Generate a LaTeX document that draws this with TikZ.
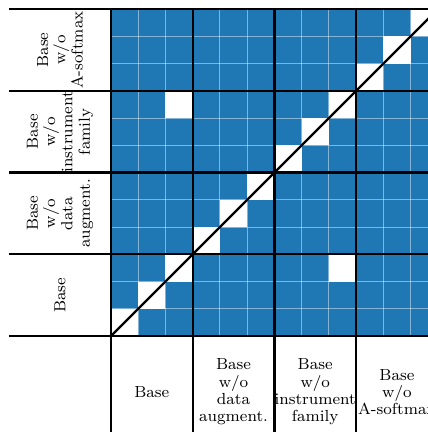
\documentclass[tikz,border=0pt]{standalone}
\definecolor{cellblue}{RGB}{31,119,180}
\tikzset{
  lbl/.style={align=center,font=\fontsize{8.4}{9.05}\selectfont},
  gridline/.style={white,opacity=0.45,line width=0.5pt},
  bound/.style={black,line width=1.2pt}
}
\begin{document}
\begin{tikzpicture}[x=0.5cm,y=0.5cm]
  \useasboundingbox (-4.076,-3.525) rectangle (11.64,12.34);
  \clip (-4.076,-3.525) rectangle (11.64,12.34);

  \fill[cellblue] (0,0) rectangle (12,12);
  \foreach \i in {0,...,11}
    \fill[white] (\i,\i) rectangle +(1,1);
  \fill[white] (2,8) rectangle +(1,1);
  \fill[white] (8,2) rectangle +(1,1);

  \foreach \i in {1,...,11} {
    \draw[gridline] (\i,0) -- (\i,12);
    \draw[gridline] (0,\i) -- (12,\i);
  }

  \foreach \y in {0,3,6,9,12}
    \draw[bound] (-3.746,\y) -- (12.5,\y);
  \foreach \x in {0,3,6,9,12}
    \draw[bound] (\x,12) -- (\x,-4);
  \draw[bound] (0,0) -- (12,12);

  \node[lbl,rotate=90] (rbase) at (-1.873,1.5) {Base};
  \node[lbl,rotate=90] (raug)  at (-1.873,4.5) {Base\\w/o\\data\\augment.};
  \node[lbl,rotate=90] (rfam)  at (-1.873,7.5) {Base\\w/o\\instrument\\family};
  \node[lbl,rotate=90] (rsoft) at (-1.873,10.5) {Base\\w/o\\A-softmax};

  \node[lbl] (cbase) at (1.5,-2.06) {Base};
  \node[lbl] (caug)  at (4.5,-2.06) {Base\\w/o\\data\\augment.};
  \node[lbl] (cfam)  at (7.5,-2.06) {Base\\w/o\\instrument\\family};
  \node[lbl] (csoft) at (10.5,-2.06) {Base\\w/o\\A-softmax};
\end{tikzpicture}
\end{document}
